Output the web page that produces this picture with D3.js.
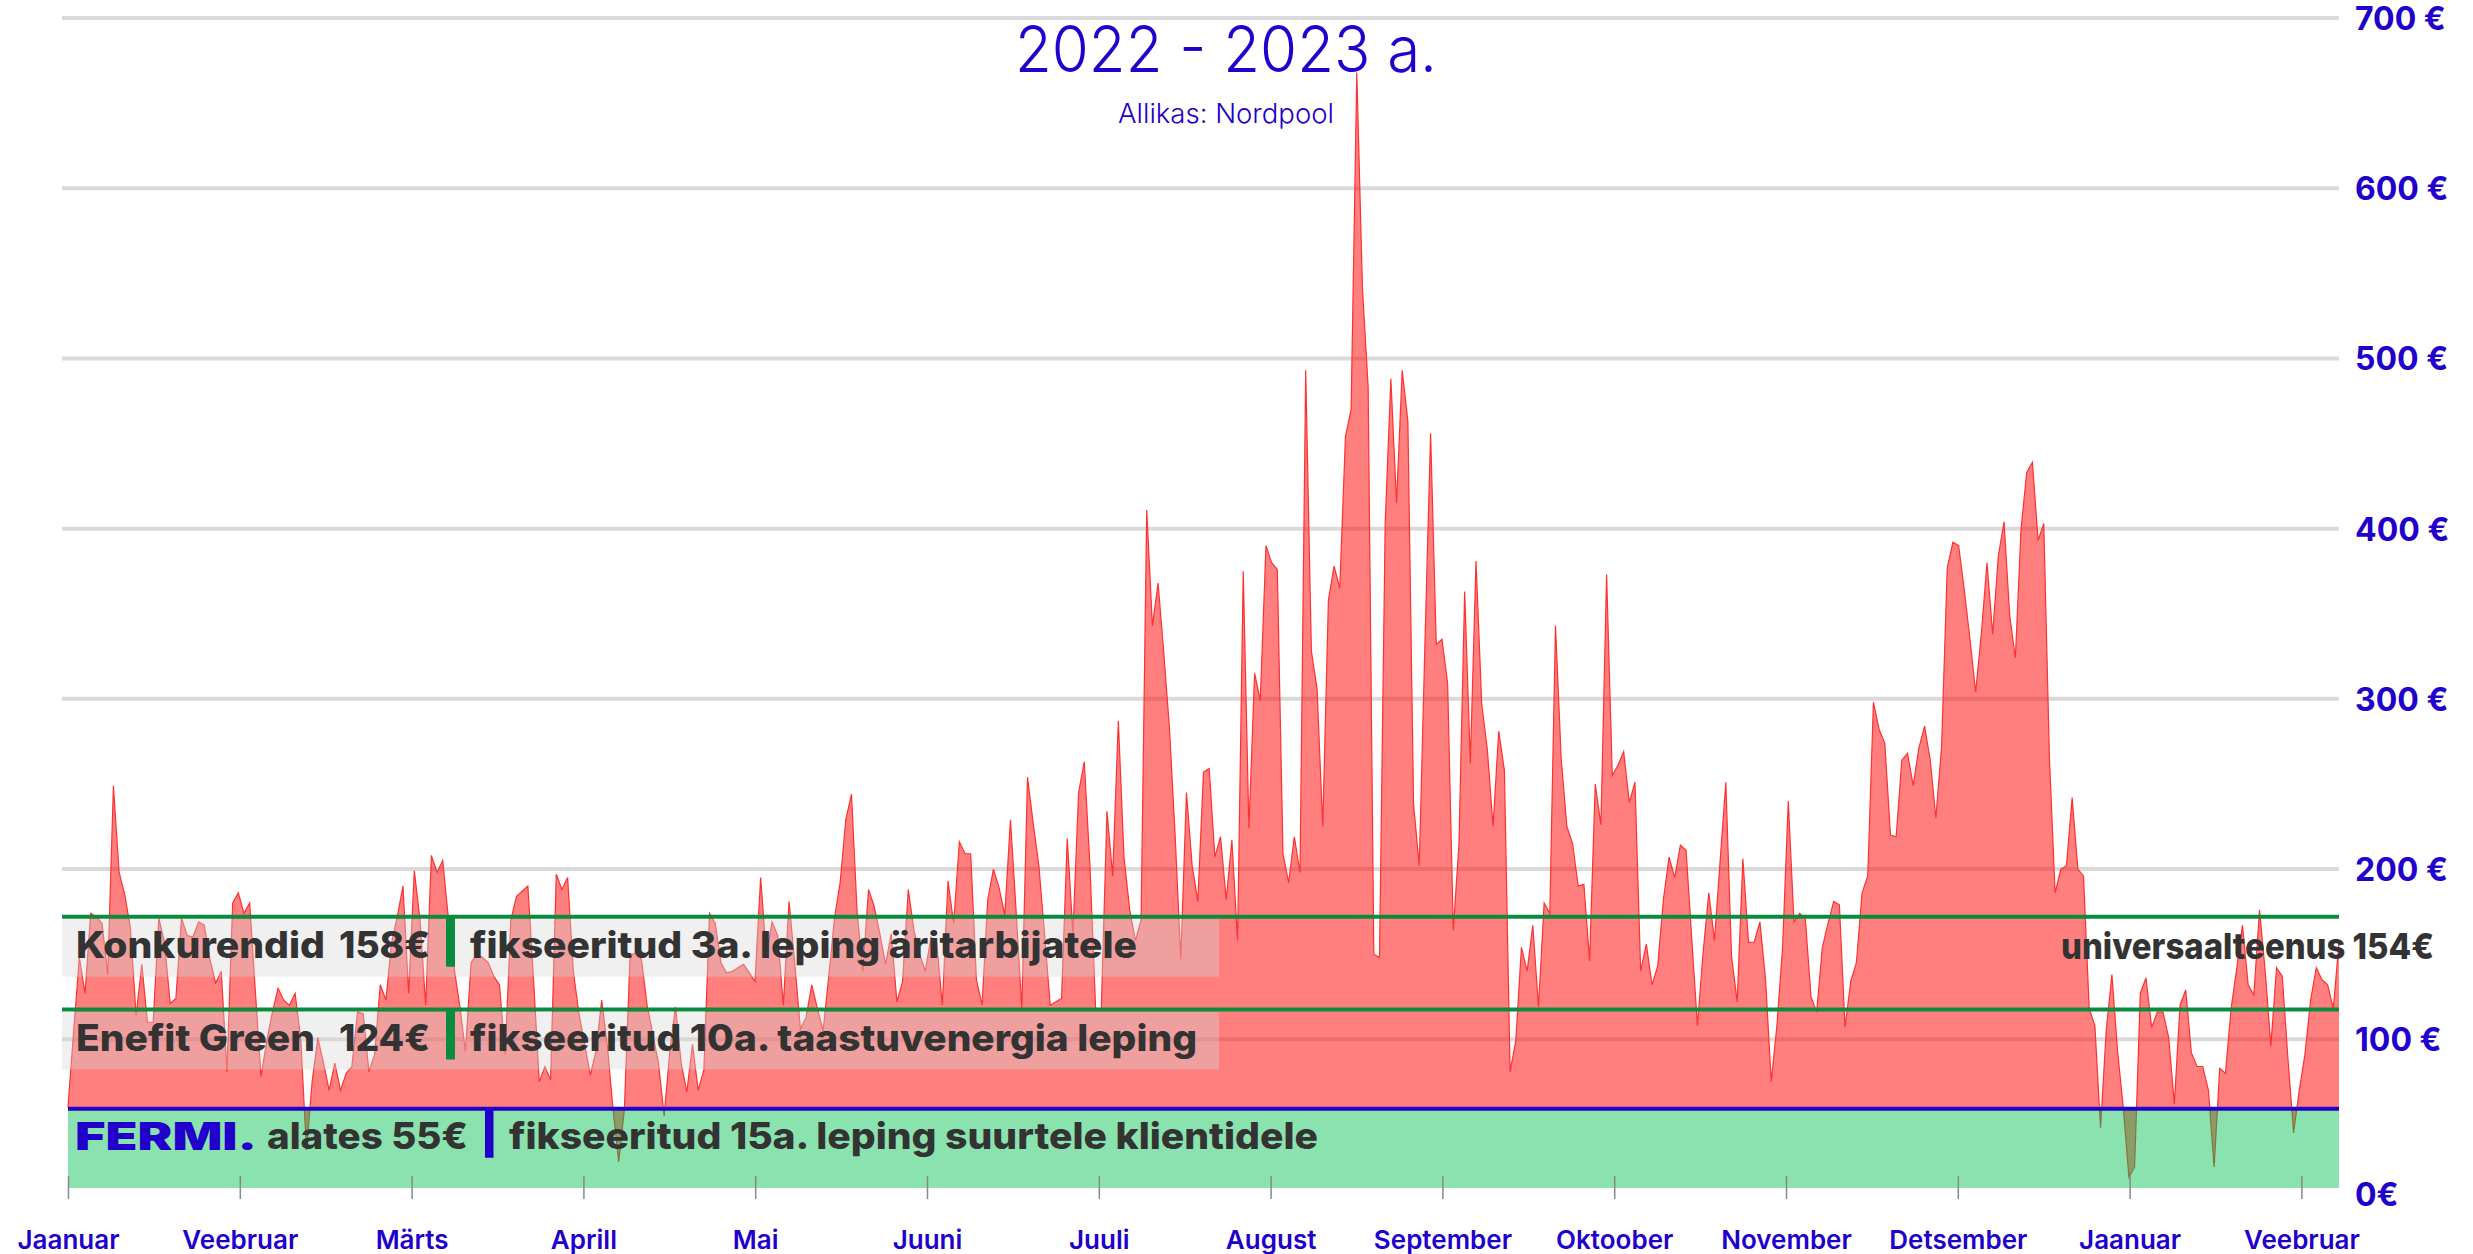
<!DOCTYPE html>
<html>
<head>
<meta charset="utf-8">
<script src="https://cdn.jsdelivr.net/npm/d3@7"></script>
<style>
  body { margin: 0; background: #fff; }
  svg { display: block; font-family: Inter, sans-serif; }
</style>
</head>
<body>
<svg width="2473" height="1254"></svg>
<script>
var months = ["Jaanuar", "Veebruar", "Märts", "Aprill", "Mai", "Juuni", "Juuli",
  "August", "September", "Oktoober", "November", "Detsember", "Jaanuar", "Veebruar"];
var daysPerTick = 30.26;

var yTicks = [0, 100, 200, 300, 400, 500, 600, 700];

// daily average price, EUR/MWh, Jan 2022 - Feb 2023
var prices = [
  60, 105, 148, 127, 174, 172, 168, 138, 249, 198,
  185, 165, 114, 144, 110, 110, 171, 157, 121, 124,
  171, 161, 160, 169, 167, 147, 133, 140, 81, 180,
  186, 174, 180, 128, 78, 99, 116, 130, 123, 120,
  127, 100, 35, 75, 101, 86, 70, 86, 70, 80,
  84, 116, 115, 81, 91, 132, 123, 157, 172, 190,
  127, 199, 170, 120, 208, 198, 205, 171, 142, 120,
  93, 145, 150, 148, 145, 137, 132, 91, 170, 184,
  187, 190, 135, 75, 84, 76, 197, 188, 195, 140,
  115, 97, 79, 93, 123, 96, 59, 28, 59, 149,
  151, 147, 120, 103, 86, 55, 93, 119, 86, 69,
  97, 70, 82, 174, 168, 145, 139, 140, 142, 144,
  139, 134, 195, 149, 169, 161, 120, 181, 145, 106,
  113, 132, 118, 105, 137, 171, 192, 229, 244, 174,
  140, 188, 178, 162, 144, 162, 122, 134, 188, 164,
  150, 140, 160, 157, 120, 193, 168, 216, 209, 209,
  135, 120, 182, 200, 189, 173, 229, 175, 118, 254,
  227, 202, 162, 120, 122, 124, 218, 162, 245, 263,
  202, 118, 118, 234, 196, 287, 207, 176, 158, 170,
  411, 343, 368, 327, 283, 220, 147, 245, 202, 181,
  257, 259, 207, 219, 182, 217, 158, 375, 224, 315,
  299, 390, 380, 376, 209, 192, 219, 198, 493, 328,
  306, 225, 358, 378, 365, 454, 470, 668, 541, 483,
  150, 148, 403, 488, 415, 493, 463, 238, 202, 332,
  456, 332, 335, 309, 164, 215, 363, 262, 381, 297,
  270, 225, 281, 258, 81, 99, 154, 140, 167, 119,
  180, 174, 343, 265, 225, 215, 190, 191, 146, 250,
  226, 373, 255, 261, 269, 239, 251, 140, 156, 132,
  143, 182, 207, 195, 214, 211, 159, 108, 151, 186,
  158, 205, 251, 149, 122, 206, 157, 157, 169, 135,
  75, 108, 154, 240, 169, 174, 171, 125, 116, 154,
  168, 181, 179, 107, 134, 145, 186, 196, 298, 282,
  274, 220, 219, 264, 268, 249, 271, 284, 264, 230,
  272, 377, 392, 390, 364, 335, 304, 338, 380, 338,
  384, 404, 349, 324, 400, 433, 439, 393, 403, 265,
  186, 200, 202, 242, 200, 196, 118, 108, 48, 105,
  138, 93, 60, 19, 25, 127, 136, 107, 116, 116,
  101, 62, 120, 129, 92, 84, 84, 70, 25, 83,
  80, 118, 142, 167, 132, 126, 176, 140, 96, 142,
  137, 89, 45, 70, 91, 123, 142, 135, 132, 118,
  157
];

// competitor offers (level = where the line sits on the price axis)
var offerNames = ["Konkurendid", "Enefit Green"];
var offerPrices = ["158€", "124€"];
var offerNotes = ["fikseeritud 3a. leping äritarbijatele", "fikseeritud 10a. taastuvenergia leping"];
var offerLevels = [172, 117.5];

var fermiLevel = 59.2;
var fermiPrice = "alates 55€";
var fermiNote = "fikseeritud 15a. leping suurtele klientidele";
var universalLabel = "universaalteenus 154€";

var blue = "#2200cc", green = "#0b8b3d", ink = "#333333";

var svg = d3.select("svg");

var x = d3.scaleLinear().domain([0, prices.length - 1]).range([68, 2339]);
var y = d3.scaleLinear().domain([0, 700]).range([1209.5, 18]);

// grid
svg.append("g")
    .attr("class", "grid")
  .selectAll("line")
  .data(yTicks.filter(function(d) { return d > 0; }))
  .enter().append("line")
    .attr("x1", 62)
    .attr("x2", x.range()[1])
    .attr("y1", function(d) { return y(d); })
    .attr("y2", function(d) { return y(d); })
    .attr("stroke", "#dadada")
    .attr("stroke-width", 4);

// price area, filled against the Fermi level
var area = d3.area()
    .x(function(d, i) { return x(i); })
    .y0(y(fermiLevel))
    .y1(function(d) { return y(d); });

var line = d3.line()
    .x(function(d, i) { return x(i); })
    .y(function(d) { return y(d); });

svg.append("path")
    .datum(prices)
    .attr("d", area)
    .attr("fill", "rgba(255,0,0,0.5)");

svg.append("path")
    .datum(prices)
    .attr("d", line)
    .attr("fill", "none")
    .attr("stroke", "#ff3030")
    .attr("stroke-width", 1.2);

// label bands
svg.append("g")
  .selectAll("rect")
  .data(offerLevels)
  .enter().append("rect")
    .attr("x", 62)
    .attr("width", 1219 - 62)
    .attr("y", function(d) { return y(d) + 2.5; })
    .attr("height", 57.5)
    .attr("fill", "rgba(214,214,214,0.37)");

// Fermi zone
svg.append("rect")
    .attr("x", x.range()[0])
    .attr("width", x.range()[1] - x.range()[0])
    .attr("y", y(fermiLevel))
    .attr("height", 1188 - y(fermiLevel))
    .attr("fill", "rgba(0,192,79,0.46)");

// offer lines
svg.append("g")
  .selectAll("line")
  .data(offerLevels)
  .enter().append("line")
    .attr("x1", 62)
    .attr("x2", x.range()[1])
    .attr("y1", function(d) { return y(d); })
    .attr("y2", function(d) { return y(d); })
    .attr("stroke", green)
    .attr("stroke-width", 4);

svg.append("line")
    .attr("x1", x.range()[0])
    .attr("x2", x.range()[1])
    .attr("y1", y(fermiLevel))
    .attr("y2", y(fermiLevel))
    .attr("stroke", blue)
    .attr("stroke-width", 4);

// offer labels
var offers = svg.append("g")
  .selectAll("g")
  .data(offerLevels)
  .enter().append("g")
    .attr("transform", function(d) { return "translate(0," + y(d) + ")"; });

offers.append("rect")
    .attr("x", 446)
    .attr("width", 9)
    .attr("y", 0)
    .attr("height", 50)
    .attr("fill", green);

offers.append("text")
    .attr("x", 76)
    .attr("y", 41.5)
    .attr("fill", ink)
    .style("font-size", "37px")
    .style("font-weight", 800)
    .attr("textLength", function(d, i) { return i === 0 ? 249 : 239; })
    .attr("lengthAdjust", "spacingAndGlyphs")
    .text(function(d, i) { return offerNames[i]; });

offers.append("text")
    .attr("x", 339)
    .attr("y", 41.5)
    .attr("fill", ink)
    .style("font-size", "37px")
    .style("font-weight", 800)
    .attr("textLength", 91)
    .attr("lengthAdjust", "spacingAndGlyphs")
    .text(function(d, i) { return offerPrices[i]; });

offers.append("text")
    .attr("x", 470)
    .attr("y", 41.5)
    .attr("fill", ink)
    .style("font-size", "37px")
    .style("font-weight", 800)
    .attr("textLength", function(d, i) { return i === 0 ? 667 : 727; })
    .attr("lengthAdjust", "spacingAndGlyphs")
    .text(function(d, i) { return offerNotes[i]; });

// Fermi label
var fy = y(fermiLevel);
svg.append("rect")
    .attr("x", 485)
    .attr("width", 8.5)
    .attr("y", fy)
    .attr("height", 49)
    .attr("fill", blue);

svg.append("text")
    .attr("x", 75)
    .attr("y", fy + 41.5)
    .attr("fill", blue)
    .style("font-size", "38px")
    .style("font-weight", 900)
    .attr("textLength", 182)
    .attr("lengthAdjust", "spacingAndGlyphs")
    .text("FERMI.");

svg.append("text")
    .attr("x", 267)
    .attr("y", fy + 40.5)
    .attr("fill", ink)
    .style("font-size", "37px")
    .style("font-weight", 800)
    .attr("textLength", 201)
    .attr("lengthAdjust", "spacingAndGlyphs")
    .text(fermiPrice);

svg.append("text")
    .attr("x", 509)
    .attr("y", fy + 40.5)
    .attr("fill", ink)
    .style("font-size", "37px")
    .style("font-weight", 800)
    .attr("textLength", 809)
    .attr("lengthAdjust", "spacingAndGlyphs")
    .text(fermiNote);

svg.append("text")
    .attr("x", 2061)
    .attr("y", 959)
    .attr("fill", ink)
    .style("font-size", "36px")
    .style("font-weight", 800)
    .attr("textLength", 373)
    .attr("lengthAdjust", "spacingAndGlyphs")
    .text(universalLabel);

// title
svg.append("text")
    .attr("x", 1226)
    .attr("y", 72)
    .attr("text-anchor", "middle")
    .attr("fill", blue)
    .style("font-size", "64px")
    .style("font-weight", 300)
    .attr("textLength", 422)
    .attr("lengthAdjust", "spacingAndGlyphs")
    .text("2022 - 2023 a.");

svg.append("text")
    .attr("x", 1226)
    .attr("y", 123)
    .attr("text-anchor", "middle")
    .attr("fill", blue)
    .style("font-size", "27px")
    .style("font-weight", 300)
    .attr("textLength", 216)
    .attr("lengthAdjust", "spacingAndGlyphs")
    .text("Allikas: Nordpool");

// x axis
var xAxis = svg.append("g")
    .attr("transform", "translate(0,1176)")
    .call(d3.axisBottom(x)
      .tickValues(months.map(function(m, i) { return i * daysPerTick; }))
      .tickFormat(function(d, i) { return months[i]; })
      .tickSize(23)
      .tickSizeOuter(0));

xAxis.select(".domain").remove();
xAxis.selectAll(".tick line").attr("stroke", "#888").attr("stroke-width", 1.5);
xAxis.selectAll(".tick text")
    .attr("y", 73)
    .attr("dy", 0)
    .attr("fill", blue)
    .style("font-family", "Inter, sans-serif")
    .style("font-size", "26px")
    .style("font-weight", 600);

// y axis
var yAxis = svg.append("g")
    .attr("transform", "translate(2355,0)")
    .call(d3.axisRight(y)
      .tickValues(yTicks)
      .tickSize(0)
      .tickPadding(0)
      .tickFormat(function(d) { return d === 0 ? "0€" : d + " €"; }));

yAxis.select(".domain").remove();
yAxis.selectAll(".tick text")
    .attr("fill", blue)
    .attr("dy", function(d) { return d === 0 ? "-0.13em" : "0.36em"; })
    .style("font-family", "Inter, sans-serif")
    .style("font-size", "32px")
    .style("font-weight", 700);
</script>
</body>
</html>
